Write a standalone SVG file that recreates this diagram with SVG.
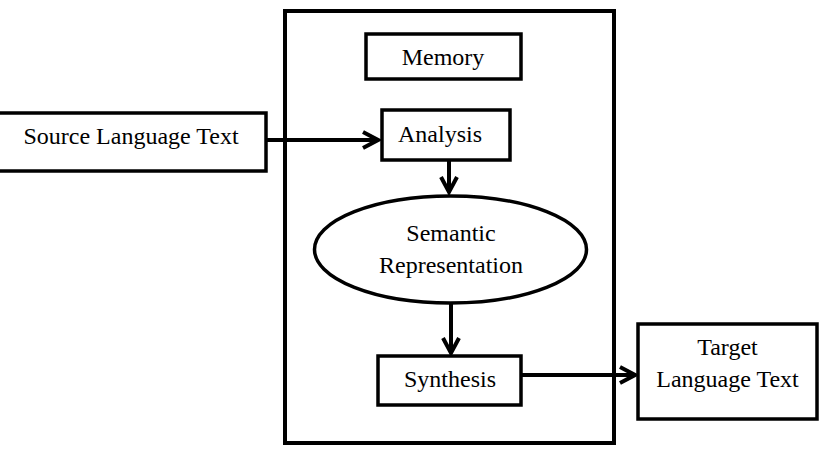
<svg xmlns="http://www.w3.org/2000/svg" width="839" height="452" viewBox="0 0 839 452">
<style>
.box{fill:#fff;stroke:#000;stroke-width:3.5}
.outer{fill:#fff;stroke:#000;stroke-width:4}
.t{font-family:"Liberation Serif","Times New Roman",serif;font-size:24px;fill:#000;text-anchor:middle}
.c{stroke:#000;stroke-width:4;fill:none}
</style>
<defs>
<marker id="arr" markerUnits="userSpaceOnUse" markerWidth="22" markerHeight="26" viewBox="-3 -13 22 26" refX="15" refY="0" orient="auto">
<path d="M0,-8 L15,0 L0,8" fill="none" stroke="#000" stroke-width="4"/>
</marker>
</defs>
<rect width="839" height="452" fill="#fff"/>
<g id="system">
<rect class="outer" x="285" y="11" width="329" height="432"/>
</g>
<g id="memory">
<rect class="box" x="366" y="34" width="155" height="45"/>
<text class="t" x="443" y="65">Memory</text>
</g>
<g id="analysis">
<rect class="box" x="382" y="110" width="128" height="50"/>
<text class="t" x="440" y="142">Analysis</text>
</g>
<g id="source">
<rect class="box" x="-3" y="113" width="269" height="58"/>
<text class="t" x="131" y="144">Source Language Text</text>
</g>
<g id="semantic">
<ellipse class="box" cx="450.5" cy="249.5" rx="136" ry="53.5"/>
<text class="t" x="451" y="241">Semantic</text>
<text class="t" x="451" y="273">Representation</text>
</g>
<g id="synthesis">
<rect class="box" x="378" y="356" width="143" height="49"/>
<text class="t" x="450" y="387">Synthesis</text>
</g>
<g id="target">
<rect class="box" x="638" y="324" width="179" height="95"/>
<text class="t" x="727.5" y="355">Target</text>
<text class="t" x="727.5" y="387">Language Text</text>
</g>
<g id="connectors">
<line class="c" x1="266" y1="140" x2="378" y2="140" marker-end="url(#arr)"/>
<line class="c" x1="449" y1="161" x2="449" y2="192" marker-end="url(#arr)"/>
<line class="c" x1="451" y1="304" x2="451" y2="353" marker-end="url(#arr)"/>
<line class="c" x1="522" y1="375" x2="635" y2="375" marker-end="url(#arr)"/>
</g>
</svg>
